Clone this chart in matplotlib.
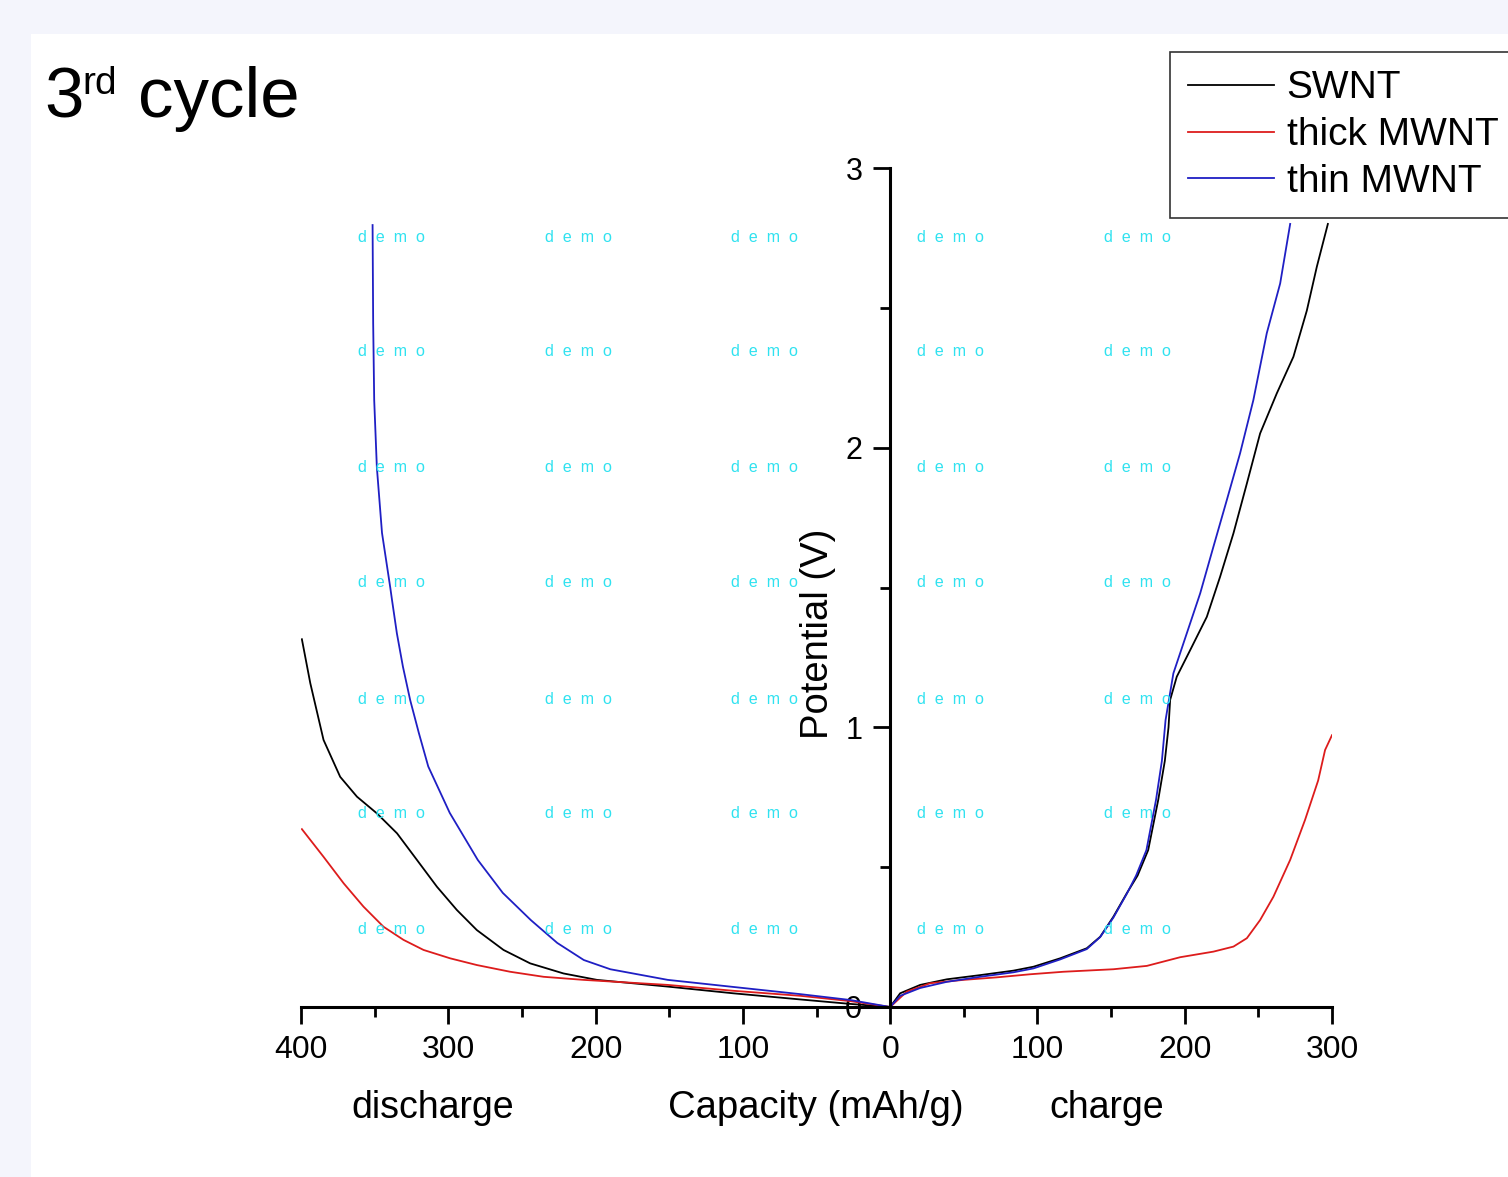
import matplotlib.pyplot as plt
from matplotlib.patches import Rectangle
from matplotlib.lines import Line2D
import numpy as np

plt.rcParams['font.family'] = ['Liberation Sans', 'DejaVu Sans']

# discharge branch (capacity in mAh/g, potential in V), plotted to the left of 0
swnt_dis_cap = [399.4, 393.7, 384.7, 373.4, 362, 348.4, 334.8, 321.3, 307.7, 294.2,
                280.6, 262.5, 244.4, 221.8, 199.1, 151, 106.6, 61, 27, 0]
swnt_dis_v = [1.315, 1.158, 0.955, 0.823, 0.752, 0.692, 0.621, 0.526, 0.430, 0.347,
              0.275, 0.204, 0.156, 0.120, 0.097, 0.073, 0.049, 0.027, 0.011, 0.0]

thick_dis_cap = [399.4, 384.7, 371, 357.6, 344, 330.4, 316.8, 298.7, 280.6, 258,
                 235.3, 208.2, 151, 106.6, 61, 27, 0]
thick_dis_v = [0.636, 0.537, 0.442, 0.359, 0.287, 0.240, 0.204, 0.174, 0.150, 0.126,
               0.108, 0.097, 0.079, 0.058, 0.040, 0.021, 0.0]

thin_dis_cap = [351.4, 351.0, 350.3, 348.5, 345, 339.4, 338.2, 334.9, 330.8, 325.9,
                320, 313.6, 299, 280, 263, 244, 226, 208, 190, 151, 107, 61, 27, 0]
thin_dis_v = [2.796, 2.445, 2.17, 1.93, 1.695, 1.50, 1.455, 1.336, 1.217, 1.098,
              0.98, 0.86, 0.694, 0.526, 0.408, 0.311, 0.229, 0.168, 0.135, 0.097,
              0.072, 0.046, 0.025, 0.0]

# charge branch, plotted to the right of 0
swnt_ch_cap = [0, 6.8, 20.4, 38.5, 61.1, 83.7, 97.3, 115.4, 133.5, 142.6, 151.6,
               160.7, 168, 175.2, 182, 186.5, 189, 190.1, 194.6, 203.7, 215, 224,
               233.1, 242.2, 251.2, 262.5, 273.8, 282.9, 289.7, 297.2]
swnt_ch_v = [0.0, 0.049, 0.079, 0.099, 0.114, 0.130, 0.144, 0.174, 0.210, 0.251,
             0.323, 0.407, 0.47, 0.561, 0.74, 0.88, 1.0, 1.098, 1.181, 1.276, 1.395,
             1.538, 1.694, 1.872, 2.051, 2.194, 2.325, 2.49, 2.647, 2.80]

thick_ch_cap = [0, 11.3, 27.2, 49.8, 72.4, 95, 117.6, 151.6, 174.3, 196.9, 219.5,
                233.1, 242.2, 251.2, 260.2, 271.6, 281.7, 290.6, 295.3, 300]
thick_ch_v = [0.0, 0.055, 0.085, 0.097, 0.106, 0.117, 0.126, 0.135, 0.147, 0.178,
              0.198, 0.216, 0.246, 0.311, 0.394, 0.526, 0.669, 0.81, 0.919, 0.972]

thin_ch_cap = [0, 6.8, 20.4, 38.5, 61.1, 83.7, 97.3, 115.4, 133.5, 142.6, 151.6,
               160.7, 167, 174, 180.5, 184.5, 187, 192.3, 201.4, 210.5, 219.5, 228.6,
               237.6, 246.6, 255.7, 264.8, 271.6]
thin_ch_v = [0.0, 0.040, 0.068, 0.090, 0.108, 0.124, 0.138, 0.170, 0.207, 0.250,
             0.320, 0.405, 0.47, 0.561, 0.74, 0.88, 1.026, 1.193, 1.336, 1.479,
             1.646, 1.813, 1.98, 2.17, 2.409, 2.587, 2.80]

labels = ['SWNT', 'thick MWNT', 'thin MWNT']
colors = ['#000000', '#dd1c1c', '#1f1fc4']

x_ticks = [-400, -300, -200, -100, 0, 100, 200, 300]
y_ticks = [0, 1, 2, 3]

W, H = 1508, 1177
fig = plt.figure(figsize=(W / 100, H / 100), dpi=100, facecolor='#f4f5fc')
fig.patches.append(Rectangle((31 / W, 0), 1 - 31 / W, 1 - 34 / H,
                             transform=fig.transFigure, facecolor='white',
                             edgecolor='none', zorder=-10))

ax = fig.add_axes([301 / W, 1 - 1007 / H, 1031 / W, 839 / H])
ax.patch.set_alpha(0)

series = [(swnt_dis_cap, swnt_dis_v, swnt_ch_cap, swnt_ch_v),
          (thick_dis_cap, thick_dis_v, thick_ch_cap, thick_ch_v),
          (thin_dis_cap, thin_dis_v, thin_ch_cap, thin_ch_v)]
handles = []
for (dc, dv, cc, cv), lab, col in zip(series, labels, colors):
    x = np.concatenate([-np.array(dc), np.array(cc)])
    y = np.concatenate([dv, cv])
    ax.plot(x, y, color=col, lw=1.3, solid_joinstyle='round')
    handles.append(Line2D([], [], color=col, lw=1.3, label=lab))

ax.set_xlim(-400, 300)
ax.set_ylim(0, 3)
ax.spines['top'].set_visible(False)
ax.spines['right'].set_visible(False)
ax.spines['left'].set_position(('data', 0))
ax.spines['left'].set_linewidth(2.2)
ax.spines['bottom'].set_linewidth(2.2)

ax.set_xticks(x_ticks)
ax.set_xticklabels([str(abs(t)) for t in x_ticks])
ax.set_xticks(np.arange(-350, 300, 100), minor=True)
ax.set_yticks(y_ticks)
ax.set_yticklabels([str(t) for t in y_ticks])
ax.set_yticks([0.5, 1.5, 2.5], minor=True)
ax.tick_params(axis='x', which='major', length=12, width=2, labelsize=23, pad=8)
ax.tick_params(axis='x', which='minor', length=7, width=2)
ax.tick_params(axis='y', which='major', length=12, width=2, labelsize=22, pad=8)
ax.tick_params(axis='y', which='minor', length=7, width=2)

fig.text(816 / W, 1 - 1108 / H, 'Capacity (mAh/g)', fontsize=27.5,
         ha='center', va='center')
fig.text(433 / W, 1 - 1108 / H, 'discharge', fontsize=27, ha='center', va='center')
fig.text(1107 / W, 1 - 1108 / H, 'charge', fontsize=27, ha='center', va='center')
fig.text(818 / W, 1 - 634 / H, 'Potential (V)', fontsize=27.5, rotation=90,
         ha='center', va='center')

# title "3rd cycle"
fig.text(44 / W, 1 - 117 / H, '3', fontsize=51, va='baseline')
fig.text(82 / W, 1 - 94 / H, 'rd', fontsize=28, va='baseline')
fig.text(138 / W, 1 - 117 / H, 'cycle', fontsize=51, va='baseline')

leg = ax.legend(handles=handles, loc='upper left',
                bbox_to_anchor=(1170 / W, 1 - 52 / H), bbox_transform=fig.transFigure,
                fontsize=28, frameon=True, fancybox=False, framealpha=1,
                edgecolor='#333333', handlelength=2.2, handletextpad=0.33,
                borderpad=0.47, labelspacing=0.28, borderaxespad=0)
leg.get_frame().set_linewidth(1.2)

# watermark
for cx in [391, 578, 764, 950, 1137]:
    for cy in [237, 352, 468, 583, 699, 814, 930]:
        fig.text(cx / W, 1 - cy / H, 'd  e  m  o', fontsize=11.5, color='#30e2f0',
                 ha='center', va='center', zorder=5)

fig.savefig('out.png', dpi=100, facecolor=fig.get_facecolor())
